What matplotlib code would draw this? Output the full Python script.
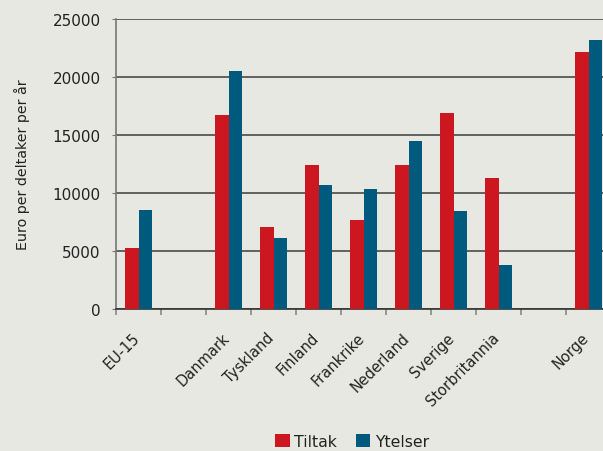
import numpy as np
from matplotlib import pyplot as plt
from matplotlib.transforms import ScaledTranslation

# Utgifter per deltaker (euro per år), tomme plasser gir luft i grafen
land = ['EU-15', '', 'Danmark', 'Tyskland', 'Finland', 'Frankrike',
        'Nederland', 'Sverige', 'Storbritannia', '', 'Norge']
tiltak = [5250, np.nan, 16700, 7050, 12400, 7700, 12400, 16900, 11300, np.nan, 22150]
ytelser = [8550, np.nan, 20500, 6100, 10700, 10350, 14500, 8450, 3800, np.nan, 23200]

bg = '#e8e8e3'
red = '#cc1620'
blue = '#005a7e'

fig = plt.figure(figsize=(6.03, 4.52), dpi=100, facecolor=bg)
ax = fig.add_axes([116 / 603, 142 / 452, 495 / 603, 290 / 452], facecolor=bg)

x = np.arange(len(land))
w = 0.29
ax.bar(x - w / 2, tiltak, w, color=red, label='Tiltak', zorder=3)
ax.bar(x + w / 2, ytelser, w, color=blue, label='Ytelser', zorder=3)

ax.set_xlim(-0.5, len(land) - 0.5)
ax.set_ylim(0, 25000)
ax.set_yticks(np.arange(0, 25001, 5000))
ax.yaxis.grid(True, color='#4a4a4a', lw=1.2, zorder=1)
ax.tick_params(axis='y', length=3, color='#777777', labelsize=11, labelcolor='#222222', pad=8)

ax.set_xticks(x)
ax.set_xticklabels(land, rotation=45, ha='right', rotation_mode='anchor', fontsize=10.5, color='#222222')
ax.tick_params(axis='x', which='major', length=0, pad=12)
# flytt etikettene litt til venstre og ned
shift = ScaledTranslation(-7 / 100, -4 / 100, fig.dpi_scale_trans)
for lab in ax.get_xticklabels():
    lab.set_transform(lab.get_transform() + shift)
ax.set_xticks(np.arange(-0.5, len(land)), minor=True)
ax.tick_params(axis='x', which='minor', length=4, color='#888888', width=1.2)

for s in ['top', 'right']:
    ax.spines[s].set_visible(False)
ax.spines['left'].set_color('#777777')
ax.spines['left'].set_linewidth(1.2)
ax.spines['bottom'].set_color('#333333')
ax.spines['bottom'].set_linewidth(1.2)

ax.set_ylabel('Euro per deltaker per år', fontsize=10.3, color='#222222', labelpad=16)

fig.legend(loc='lower center', bbox_to_anchor=(0.584, -0.026), ncol=2, frameon=False,
           fontsize=11.3, handlelength=0.9, handleheight=0.9, handletextpad=0.3, columnspacing=1.2,
           labelcolor='#222222')

plt.savefig('out.png', facecolor=bg)
